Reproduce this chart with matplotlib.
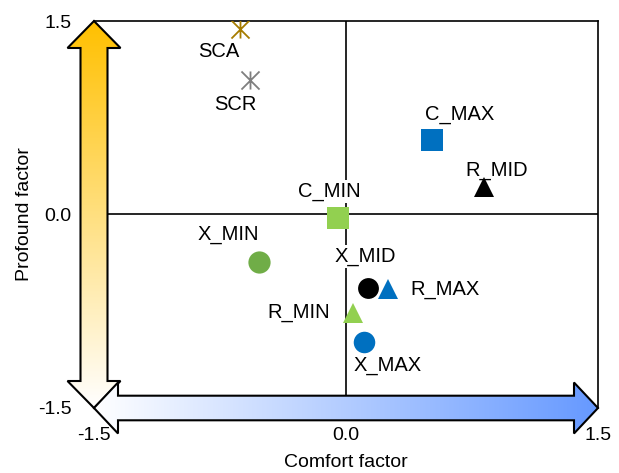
import numpy as np
import matplotlib
matplotlib.use("Agg")
import matplotlib.pyplot as plt
from matplotlib.patches import Polygon
from matplotlib.path import Path
from matplotlib.colors import LinearSegmentedColormap

plt.rcParams["font.family"] = ["Liberation Sans", "DejaVu Sans"]

# data
names = ["SCA", "SCR", "C_MAX", "R_MID", "C_MIN", "X_MIN", "X_MID", "R_MAX", "R_MIN", "X_MAX"]
comfort = [-0.63, -0.57, 0.51, 0.82, -0.05, -0.52, 0.13, 0.25, 0.04, 0.11]
profound = [1.44, 1.04, 0.58, 0.21, -0.03, -0.37, -0.57, -0.58, -0.76, -0.99]
ticks = [-1.5, 0.0, 1.5]
tick_labels = ["-1.5", "0.0", "1.5"]

# Excel-style "star" marker: an x with a vertical bar through it
STAR = Path([(-1, -1), (1, 1), (-1, 1), (1, -1), (0, -1), (0, 1)],
            [Path.MOVETO, Path.LINETO] * 3)

# style per point: marker, colour, size
GREEN, DKGREEN, BLUE = "#92D050", "#70AD47", "#0070C0"
style = {
    "SCA": (STAR, "#A67C00", 13),
    "SCR": (STAR, "#7F7F7F", 13),
    "C_MAX": ("s", BLUE, 15.8),
    "R_MID": ("^", "black", 15),
    "C_MIN": ("s", GREEN, 15.8),
    "X_MIN": ("o", DKGREEN, 16),
    "X_MID": ("o", "black", 15),
    "R_MAX": ("^", BLUE, 15),
    "R_MIN": ("^", GREEN, 15),
    "X_MAX": ("o", BLUE, 15.5),
}
# label offsets in points
label_off = {
    "SCA": (-15.5, -16.6), "SCR": (-10.4, -17.3), "C_MAX": (20.2, 18.4),
    "R_MID": (9.4, 12.2), "C_MIN": (-5.8, 19.4), "X_MIN": (-22, 19.8),
    "X_MID": (-1.8, 23), "R_MAX": (41.4, -0.4), "R_MIN": (-38.9, 0),
    "X_MAX": (16.9, -16.6),
}

W, H = 619, 473
fig = plt.figure(figsize=(W / 100, H / 100), dpi=100)
ax = fig.add_axes([94 / W, 65 / H, 504 / W, 387 / H])
lo, hi = -1.5, 1.5
ax.set_xlim(lo, hi)
ax.set_ylim(lo, hi)

# px -> data scale
sx = (hi - lo) / 504
sy = (hi - lo) / 387

ax.axhline(0, color="black", lw=1.2, zorder=1)
ax.axvline(0, color="black", lw=1.2, zorder=1)
for s in ("left", "bottom"):
    ax.spines[s].set_visible(False)
for s in ("top", "right"):
    ax.spines[s].set_linewidth(1.2)


def grad_arrow(pts, cmap, vertical, z):
    poly = Polygon(pts, closed=True, fc="none", ec="black", lw=1.5,
                   clip_on=False, zorder=z + 0.5, joinstyle="miter")
    ax.add_patch(poly)
    xs, ys = zip(*pts)
    g = np.linspace(0, 1, 256)
    img = g[:, None] if vertical else g[None, :]
    im = ax.imshow(img, cmap=cmap, origin="lower", aspect="auto",
                   extent=[min(xs), max(xs), min(ys), max(ys)], zorder=z,
                   interpolation="bilinear")
    im.set_clip_box(fig.bbox)
    im.set_clip_path(poly)


# vertical arrow (profound)
hw, sw, hl = 26.5 * sx, 13.5 * sx, 27 * sy
v_pts = [(lo, hi), (lo - hw, hi - hl), (lo - sw, hi - hl), (lo - sw, lo + hl),
         (lo - hw, lo + hl), (lo, lo), (lo + hw, lo + hl), (lo + sw, lo + hl),
         (lo + sw, hi - hl), (lo + hw, hi - hl)]
grad_arrow(v_pts, LinearSegmentedColormap.from_list("y", ["#FFFFFF", "#FFC000"]), True, 2)

# horizontal arrow (comfort)
hh, sh, hlx = 25.5 * sy, 12.3 * sy, 24 * sx
h_pts = [(lo, lo), (lo + hlx, lo + hh), (lo + hlx, lo + sh), (hi - hlx, lo + sh),
         (hi - hlx, lo + hh), (hi, lo), (hi - hlx, lo - hh), (hi - hlx, lo - sh),
         (lo + hlx, lo - sh), (lo + hlx, lo - hh)]
grad_arrow(h_pts, LinearSegmentedColormap.from_list("b", ["#FFFFFF", "#6699FF"]), False, 3)

ax.set_xlim(lo, hi)
ax.set_ylim(lo, hi)

for n, x, y in zip(names, comfort, profound):
    m, c, ms = style[n]
    if m is STAR:
        ax.plot(x, y, marker=m, ms=ms, color=c, mew=1.3, ls="none", zorder=5)
    else:
        ax.plot(x, y, marker=m, ms=ms, color=c, mec=c, mew=0, ls="none", zorder=5)
    ax.annotate(n, (x, y), xytext=label_off[n], textcoords="offset points",
                ha="center", va="center", fontsize=14.5, zorder=4,
                bbox=dict(boxstyle="square,pad=0.1", fc="white", ec="none"))

ax.set_xticks(ticks)
ax.set_xticklabels(tick_labels)
ax.set_yticks(ticks)
ax.set_yticklabels(tick_labels)
ax.tick_params(axis="both", length=0, labelsize=14)
ax.tick_params(axis="x", pad=20)
ax.tick_params(axis="y", pad=16)
for lbl in ax.get_xticklabels():
    lbl.set_va("center")

ax.set_xlabel("Comfort factor", fontsize=14, va="center")
ax.xaxis.set_label_coords(0.5, (408 - 462) / 387)
ax.set_ylabel("Profound factor", fontsize=14, va="center")
ax.yaxis.set_label_coords((25 - 94) / 504, 0.5)

fig.savefig("out.png", dpi=100)
